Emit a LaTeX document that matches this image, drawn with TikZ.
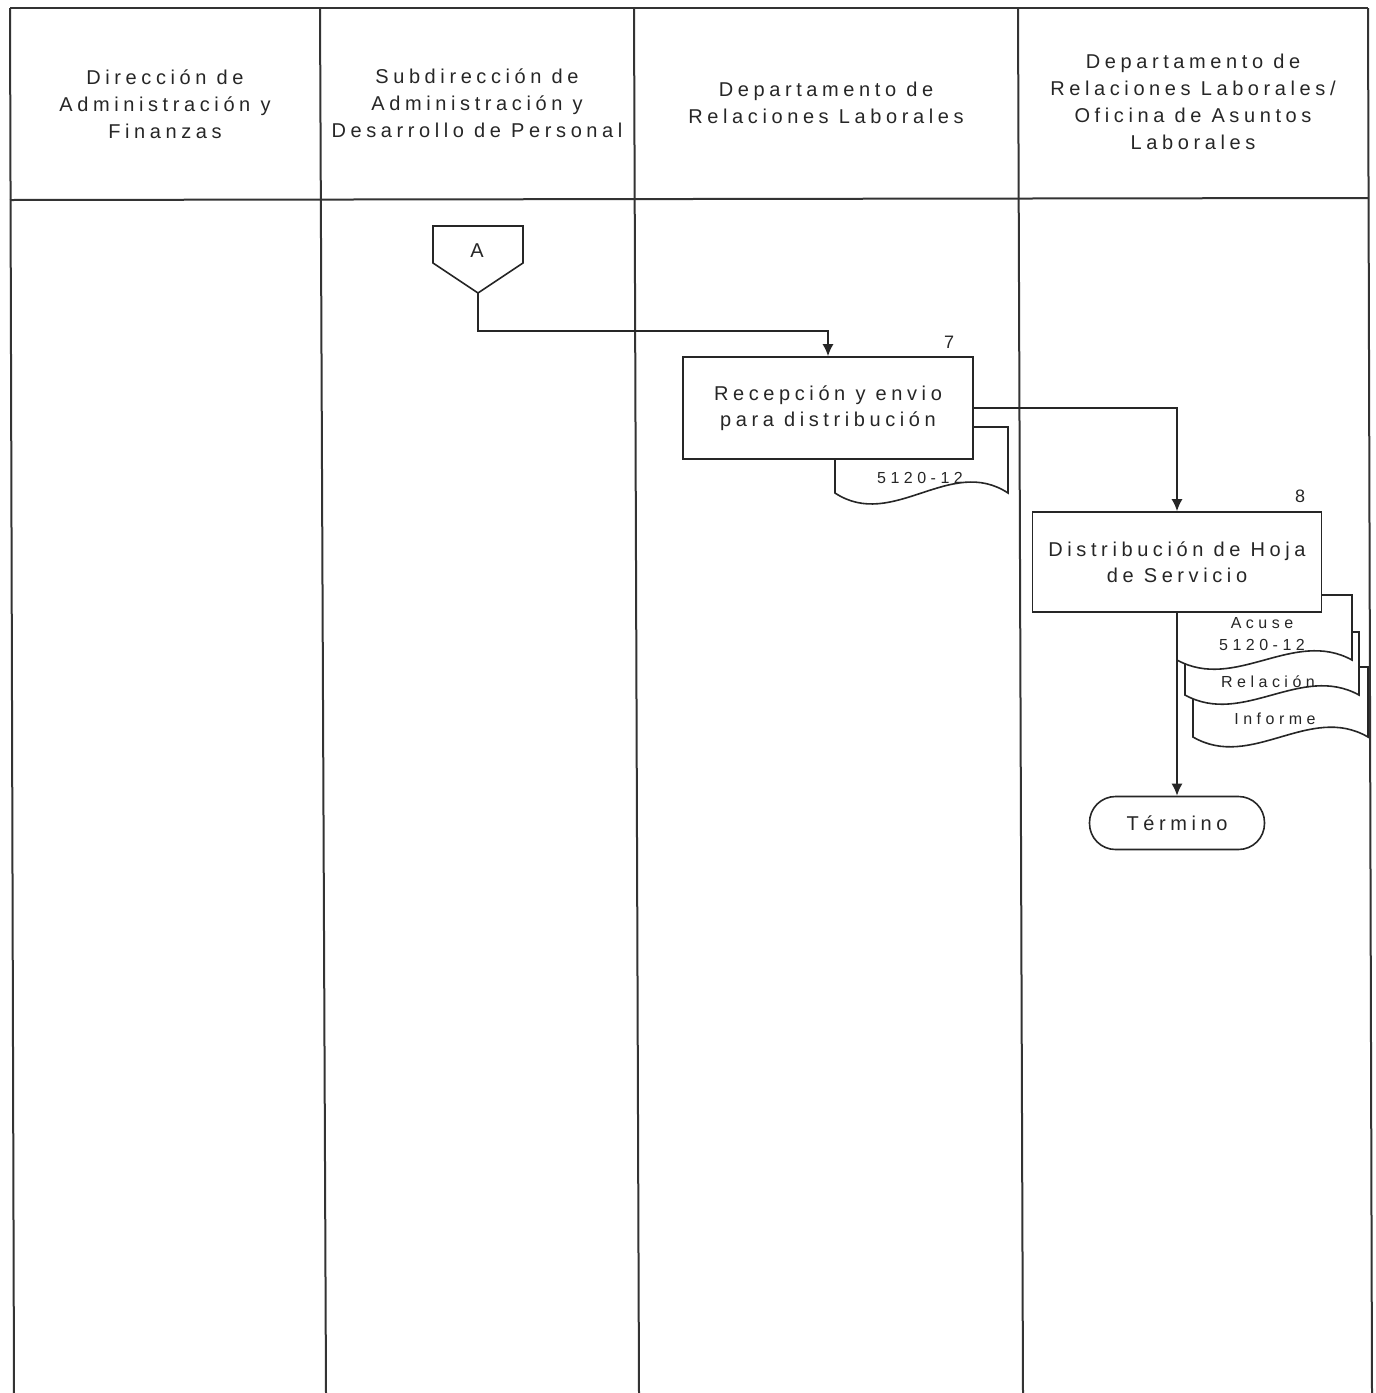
\documentclass[tikz,border=0pt]{standalone}
\usepackage{fontspec}
\setmainfont{Liberation Sans}
\newfontfamily\lsp[LetterSpace=23]{Liberation Sans}
\newfontfamily\lsps[LetterSpace=28]{Liberation Sans}
\usetikzlibrary{arrows.meta}
\newcommand\mydoc[5]{%
  \draw[docst] (#1,#3) -- (#2,#3) -- (#2,#4)
    .. controls ({#2-(#2-#1)/3},{#4-#5}) and ({#1+(#2-#1)/3},{#4+#5}) .. (#1,#4) -- cycle;}
\begin{document}
\begin{tikzpicture}[x=0.5pt,y=-0.5pt,
  lane/.style={draw=black!80,line width=1pt},
  hdr/.style={align=center,font=\lsp\fontsize{10}{13.5}\selectfont,text=black!85,inner sep=0pt},
  proc/.style={draw=black!85,line width=0.8pt,fill=white,align=center,
    font=\lsp\fontsize{10}{13}\selectfont,text=black!85,inner sep=0pt},
  docst/.style={draw=black!85,line width=0.8pt,fill=white},
  shp/.style={draw=black!85,line width=0.8pt,fill=white},
  small/.style={font=\lsps\fontsize{8}{11}\selectfont,text=black!85,inner sep=0pt,align=center},
  num/.style={font=\fontsize{9}{11}\selectfont,text=black!85,inner sep=0pt},
  flow/.style={draw=black!85,line width=0.8pt,-{Latex[length=6pt,width=5.5pt]}}]
\useasboundingbox (0,0) rectangle (1376,1393);
% swimlanes
\draw[lane] (10,8) -- (1368,8);
\draw[lane] (10,200) -- (1368,198);
\draw[lane] (10,8) -- (14,1393);
\draw[lane] (320,8) -- (326,1393);
\draw[lane] (634,8) -- (639,1393);
\draw[lane] (1018,8) -- (1023,1393);
\draw[lane] (1368,8) -- (1372,1393);
% headers
\node[hdr] (h1) at (165,104) {Dirección de\\Administración y\\Finanzas};
\node[hdr] (h2) at (477,103) {Subdirección de\\Administración y\\Desarrollo de Personal};
\node[hdr] (h3) at (826,103) {Departamento de\\Relaciones Laborales};
\node[hdr] (h4) at (1193,102) {Departamento de\\Relaciones Laborales/\\Oficina de Asuntos\\Laborales};
% off-page connector A
\draw[shp] (433,226) -- (523,226) -- (523,263) -- (478,293) -- (433,263) -- cycle;
\node[num,font=\fontsize{10}{12}\selectfont] (A) at (477,251) {A};
\coordinate (Atip) at (478,293);
% step 7
\mydoc{835}{1008}{427}{493}{38}
\node[small] (d7) at (920,478) {5120-12};
\node[proc,minimum width=145pt,minimum height=51pt] (b7) at (828,408) {Recepción y envio\\para distribución};
\node[num] (n7) at (949,342) {7};
% step 8 documents
\mydoc{1193}{1368}{667}{737}{34}
\node[small] (d8c) at (1275,719) {Informe};
\mydoc{1185}{1359}{632}{695}{32}
\node[small] (d8b) at (1268,682) {Relación};
\mydoc{1177}{1352}{595}{660}{32}
\node[small] (d8a) at (1262,634) {Acuse\\5120-12};
\node[proc,minimum width=144.5pt,minimum height=50pt] (b8) at (1177,562) {Distribución de Hoja\\de Servicio};
\node[num] (n8) at (1300,496) {8};
% end
\node[proc,rounded corners=13pt,minimum width=87.5pt,minimum height=26.5pt] (term) at (1177,823) {Término};
% connectors
\draw[flow] (Atip) -- ++(0,38) -| (b7.north);
\draw[flow] (b7.east) -| (b8.north);
\draw[flow] (b8.south) -- (term.north);
\end{tikzpicture}
\end{document}
